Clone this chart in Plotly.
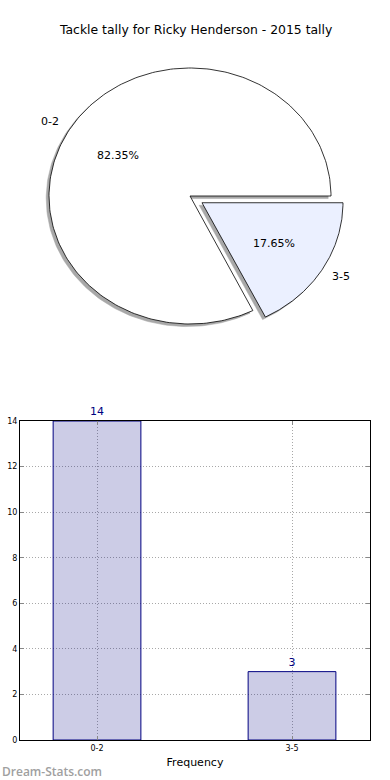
import numpy as np
import plotly.graph_objects as go

# ---- data ----
categories = ["0-2", "3-5"]
values = [14, 3]
pct_labels = ["82.35%", "17.65%"]
explode = [0.0, 0.1]
slice_colors = ["#ffffff", "#ebf0ff"]
title_text = "Tackle tally for Ricky Henderson - 2015 tally"
y_ticks = [0, 2, 4, 6, 8, 10, 12, 14]
x_title = "Frequency"
y_title = "Distribution"
watermark = "Dream-Stats.com"

W, H = 390, 780
FONT = "DejaVu Sans"


def py(p):
    return 1 - p / H


fig = go.Figure()

# ---- pie drawn on an xy axis (elliptical, like the reference) ----
total = sum(values)
start = 0.0
annotations = []
for i, (cat, v) in enumerate(zip(categories, values)):
    t1 = start
    t2 = start + 360.0 * v / total
    mid = np.radians((t1 + t2) / 2)
    cx = explode[i] * np.cos(mid)
    cy = explode[i] * np.sin(mid)
    th = np.radians(np.linspace(t1, t2, 240))
    xs = np.concatenate([[cx], cx + np.cos(th), [cx]])
    ys = np.concatenate([[cy], cy + np.sin(th), [cy]])
    fig.add_trace(go.Scatter(x=xs - 0.02, y=ys - 0.02, mode="lines", fill="toself",
                             fillcolor="#a8a8a8", line=dict(color="#a8a8a8", width=0.5),
                             xaxis="x2", yaxis="y2", hoverinfo="skip", showlegend=False))
    fig.add_trace(go.Scatter(x=xs, y=ys, mode="lines", fill="toself",
                             fillcolor=slice_colors[i], line=dict(color="black", width=0.8),
                             xaxis="x2", yaxis="y2", hoverinfo="skip", showlegend=False))
    lx = cx + 1.1 * np.cos(mid)
    ly = cy + 1.1 * np.sin(mid)
    annotations.append(dict(x=lx, y=ly, xref="x2", yref="y2", text=cat, showarrow=False,
                            xanchor="right" if lx < 0 else "left", yanchor="middle",
                            xshift=3 if lx < 0 else -4,
                            font=dict(family=FONT, size=11, color="black")))
    annotations.append(dict(x=cx + 0.6 * np.cos(mid), y=cy + 0.6 * np.sin(mid),
                            xref="x2", yref="y2", text=pct_labels[i], showarrow=False,
                            xanchor="center", yanchor="middle",
                            font=dict(family=FONT, size=11, color="black")))
    start = t2

# ---- bar chart ----
fig.add_trace(go.Bar(x=categories, y=values, width=0.45,
                     marker=dict(color="rgba(0,0,128,0.2)", line=dict(color="#000080", width=1)),
                     text=[str(v) for v in values], textposition="outside",
                     textfont=dict(family=FONT, size=11, color="#000080"),
                     cliponaxis=False, hoverinfo="skip", showlegend=False,
                     xaxis="x", yaxis="y"))

annotations.append(dict(x=0.5, y=py(30), xref="paper", yref="paper", text=title_text,
                        showarrow=False, xanchor="center", yanchor="middle",
                        font=dict(family=FONT, size=12.4, color="black")))
annotations.append(dict(x=-5 / W, y=py(580), xref="paper", yref="paper", text=y_title,
                        showarrow=False, textangle=-90, xanchor="center", yanchor="middle",
                        font=dict(family=FONT, size=11, color="black")))
annotations.append(dict(x=0, y=py(771), xref="paper", yref="paper", text=watermark,
                        showarrow=False, xanchor="left", yanchor="middle",
                        font=dict(family="Open Sans", size=12, color="#a0a0a0", weight=600)))

grid = dict(showgrid=True, gridcolor="#a8a8a8", griddash="1px,2px", gridwidth=1,
            showline=True, mirror="ticks", linecolor="black", linewidth=1,
            ticks="inside", ticklen=4, tickcolor="#888888", zeroline=False,
            automargin=False,
            tickfont=dict(family=FONT, size=8, color="black"))

fig.update_layout(
    width=W, height=H, margin=dict(l=0, r=0, t=0, b=0, autoexpand=False),
    paper_bgcolor="white", plot_bgcolor="rgba(0,0,0,0)",
    annotations=annotations,
    xaxis=dict(domain=[20 / W, 370 / W], anchor="y", range=[-0.395, 1.4],
               title=dict(text=x_title, standoff=6, font=dict(family=FONT, size=11, color="black")),
               **grid),
    yaxis=dict(domain=[py(740), py(421)], anchor="x", range=[0, 14], tickvals=y_ticks,
               **grid),
    xaxis2=dict(domain=[0, 1], anchor="y2", range=[-190 / 141, 200 / 141], visible=False,
                fixedrange=True),
    yaxis2=dict(domain=[py(400), 1], anchor="x2", range=[-204 / 128, 196 / 128], visible=False,
                fixedrange=True),
)

fig.write_html("out.html", config={"displayModeBar": False},
               post_script="document.body.style.margin='0';document.body.style.overflow='hidden';")
